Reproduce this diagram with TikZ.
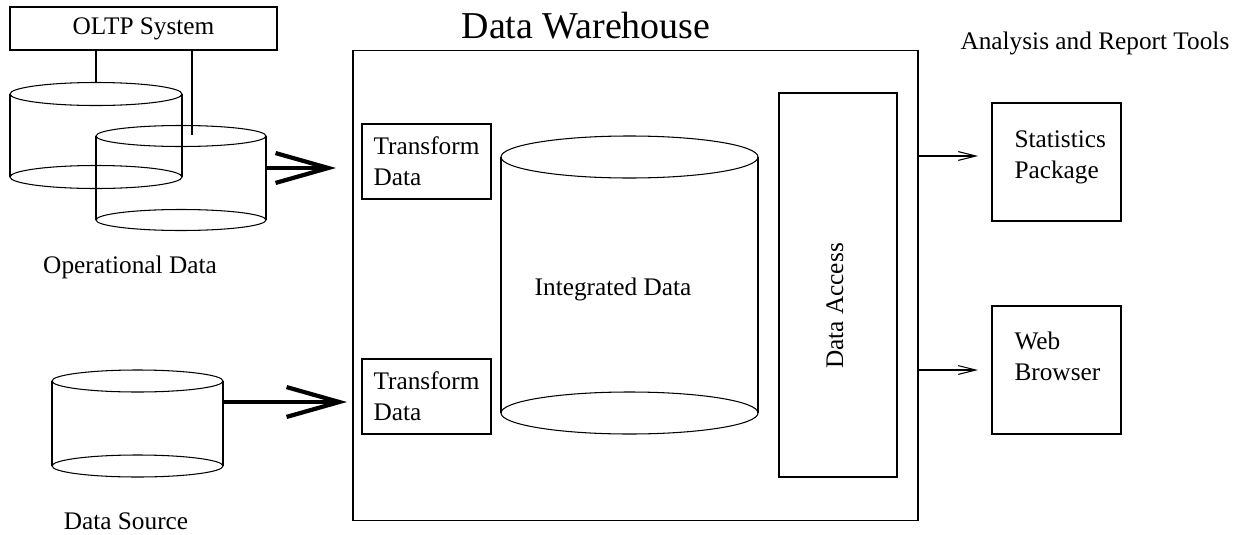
\documentclass[tikz,border=0pt]{standalone}
\usepackage{fontspec}
\setmainfont{Liberation Serif}
\usetikzlibrary{arrows.meta}
\usetikzlibrary{positioning}
\tikzset{box/.style = {draw, inner sep=0pt},
         size/.style 2 args = {minimum width=#1*0.02cm, minimum height=#2*0.02cm},
         lbl/.style = {font=\fontsize{14.4}{17.6}\selectfont, inner sep=0pt},
         bigarrow/.style = {line width=2.4pt, -{Straight Barb[length=30pt, width=17pt]}},
         smallarrow/.style = {-{Straight Barb[length=10pt, width=5pt]}}}
\newcommand{\drum}[6]{%
  \draw (#2,#4) -- (#2,#5) (#3,#4) -- (#3,#5);
  \draw ({(#2+#3)/2},#4) ellipse ({(#3-#2)/2} and #6);
  \draw ({(#2+#3)/2},#5) ellipse ({(#3-#2)/2} and #6);
  \coordinate (#1) at ({(#2+#3)/2},{#4-#6});
}

\begin{document}
\begin{tikzpicture}[x=0.02cm, y=-0.02cm, line width=0.6pt]
      \useasboundingbox (0,0) rectangle (1240,534);

      \node[box, lbl, size={267}{43}] (oltp) at (143.5,28.5) {OLTP System};
      \drum{ops1}{10}{182}{94}{177}{11.5}
      \drum{ops2}{96}{266}{136}{220}{10.5}
      \drum{src}{52}{223}{381}{466}{11}
      \node[lbl, anchor=base] (opslbl) at (130,273) {Operational Data};
      \node[lbl, anchor=base] (srclbl) at (126,529) {Data Source};

      \coordinate (ops2in) at (192,135);
      \draw (oltp.south -| ops1) -- (ops1);
      \draw (oltp.south -| ops2in) -- (ops2in);

      \node[box, size={565}{470}] (dw) at (635.5,285.5) {};
      \node[font=\fontsize{21.6}{26}\selectfont, inner sep=0pt, anchor=base] (title) at (586,38) {Data Warehouse};

      \node[box, lbl, align=left, inner xsep=11*0.02cm, size={129}{75}] (xf1) at (426.5,161.5) {Transform\\Data};
      \node[box, lbl, align=left, inner xsep=11*0.02cm, size={129}{75}] (xf2) at (426.5,396.5) {Transform\\Data};

      \drum{whs}{501}{758}{157}{413}{21}
      \node[lbl, anchor=base] (whslbl) at (613,295) {Integrated Data};

      \node[box, size={118}{384}] (acc) at (838,285) {};
      \node[lbl, rotate=90] (acclbl) at (835,306) {Data Access};

      \node[lbl, anchor=base west] (tools) at (960,50) {Analysis and Report Tools};
      \node[box, size={129}{118}] (stat) at (1056.5,162) {};
      \node[lbl, align=left, anchor=base west] (statlbl) at (1014,178) {Statistics\\Package};
      \node[box, size={129}{128}] (web) at (1056.5,370) {};
      \node[lbl, align=left, anchor=base west] (weblbl) at (1014,380) {Web\\Browser};

      \coordinate (ops2out) at (266,168);
      \coordinate (dwin1) at (336,168);
      \coordinate (srcout) at (223,402);
      \coordinate (dwin2) at (347,402);
      \draw[bigarrow] (ops2out) -- (dwin1);
      \draw[bigarrow] (srcout) -- (dwin2);

      \coordinate (statin) at (978,156);
      \coordinate (webin) at (978,370);
      \draw[smallarrow] (dw.east |- statin) -- (statin);
      \draw[smallarrow] (dw.east |- webin) -- (webin);
    \end{tikzpicture}
\end{document}
